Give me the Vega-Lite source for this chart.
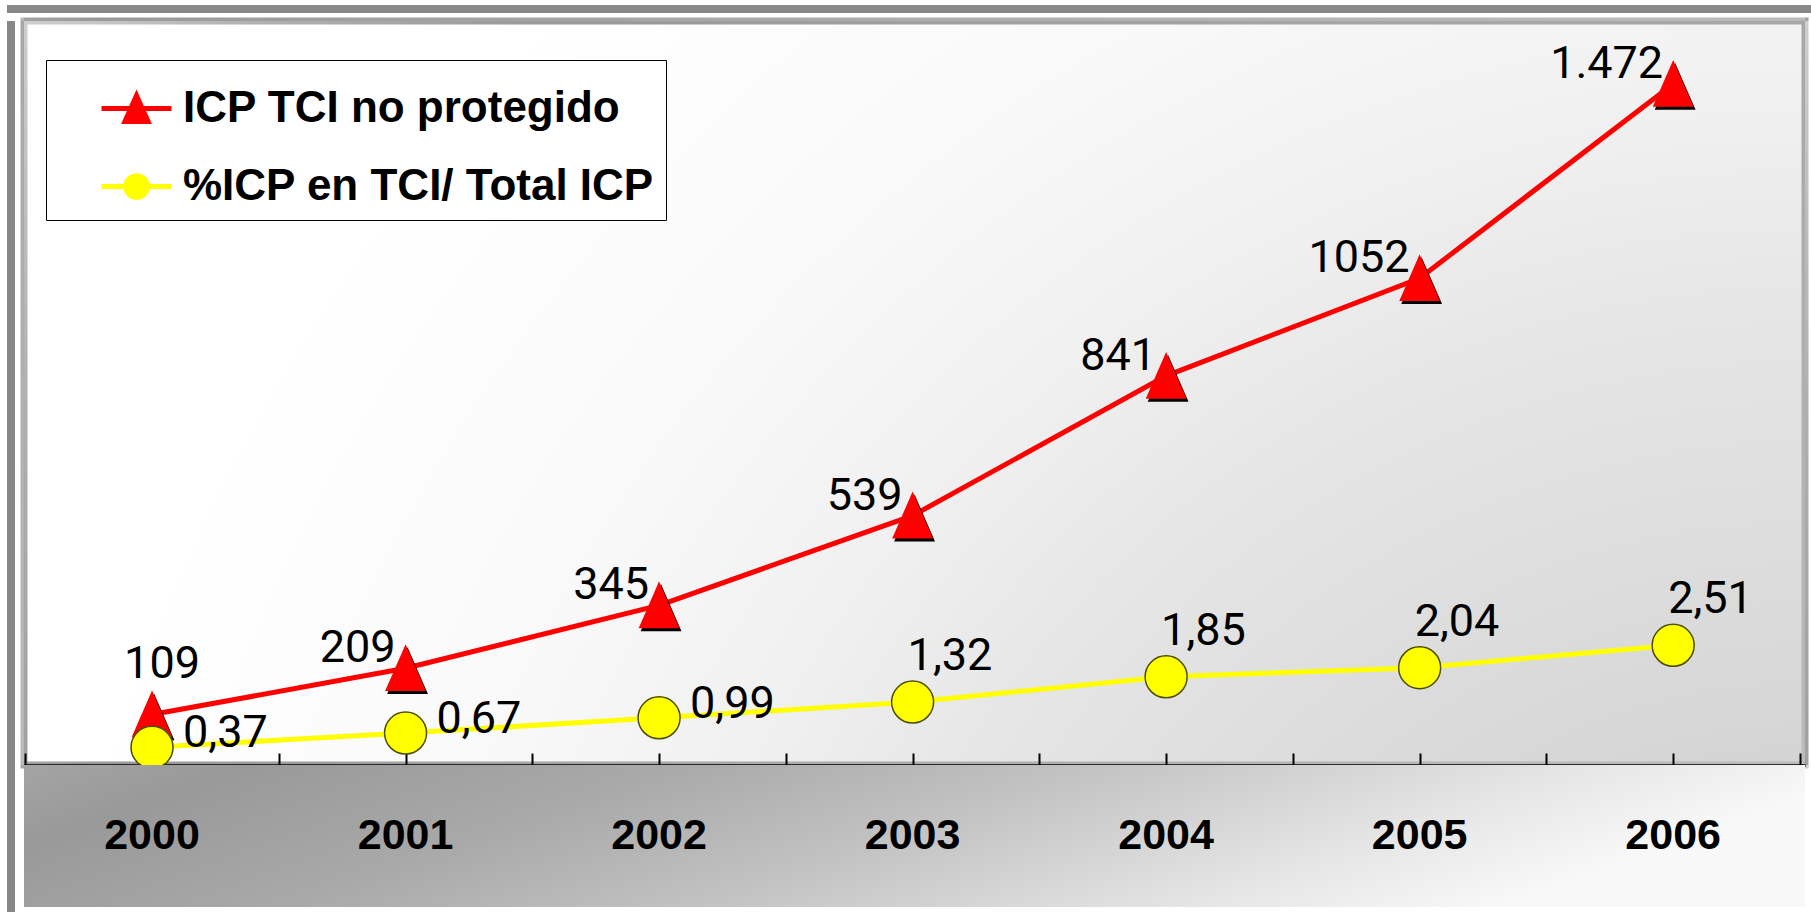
{
  "$schema": "https://vega.github.io/schema/vega-lite/v6.json",
  "background": "#ffffff",
  "padding": {"left": 7, "top": 5, "right": 0, "bottom": 0},
  "bounds": "flush",
  "spacing": 8,
  "datasets": {
    "d": [
      {"year": 2000, "icp": 109, "icp_label": "109", "pct": 0.37, "pct_label": "0,37"},
      {"year": 2001, "icp": 209, "icp_label": "209", "pct": 0.67, "pct_label": "0,67"},
      {"year": 2002, "icp": 345, "icp_label": "345", "pct": 0.99, "pct_label": "0,99"},
      {"year": 2003, "icp": 539, "icp_label": "539", "pct": 1.32, "pct_label": "1,32"},
      {"year": 2004, "icp": 841, "icp_label": "841", "pct": 1.85, "pct_label": "1,85"},
      {"year": 2005, "icp": 1052, "icp_label": "1052", "pct": 2.04, "pct_label": "2,04"},
      {"year": 2006, "icp": 1472, "icp_label": "1.472", "pct": 2.51, "pct_label": "2,51"}
    ]
  },
  "vconcat": [
    {
      "data": {"values": []},
      "mark": "rect",
      "encoding": {},
      "width": 1804,
      "height": 8,
      "view": {"fill": "#888888", "stroke": null}
    },
    {
      "bounds": "flush",
      "spacing": 9,
      "hconcat": [
        {
          "data": {"values": []},
          "mark": "rect",
          "encoding": {},
          "width": 8,
          "height": 891,
          "view": {"fill": "#888888", "stroke": null}
        },
        {
          "bounds": "flush",
          "spacing": 0,
          "vconcat": [
            {
              "width": 1781,
              "height": 744,
              "data": {"name": "d"},
              "view": {
                "fill": {
                  "gradient": "radial", "x1": 1, "y1": 1, "r1": 0, "x2": 1, "y2": 1, "r2": 1,
                  "stops": [
                    {"offset": 0, "color": "#bababa"},
                    {"offset": 0.17, "color": "#c2c2c2"},
                    {"offset": 0.31, "color": "#d6d6d6"},
                    {"offset": 0.55, "color": "#e6e6e6"},
                    {"offset": 0.66, "color": "#f0f0f0"},
                    {"offset": 0.8, "color": "#f9f9f9"},
                    {"offset": 1, "color": "#ffffff"}
                  ]
                },
                "stroke": {
                  "gradient": "radial", "x1": 1, "y1": 1, "r1": 0, "x2": 1, "y2": 1, "r2": 1.45,
                  "stops": [
                    {"offset": 0, "color": "#c8c8c8"},
                    {"offset": 0.35, "color": "#b0b0b0"},
                    {"offset": 0.69, "color": "#999999"},
                    {"offset": 0.77, "color": "#b0b0b0"},
                    {"offset": 0.89, "color": "#e0e0e0"},
                    {"offset": 1, "color": "#ffffff"}
                  ]
                },
                "strokeWidth": 7
              },
              "encoding": {
                "x": {
                  "field": "year", "type": "quantitative",
                  "scale": {"domain": [1999.495, 2006.52], "nice": false, "zero": false},
                  "axis": {
                    "values": [1999.5, 2000, 2000.5, 2001, 2001.5, 2002, 2002.5, 2003, 2003.5, 2004, 2004.5, 2005, 2005.5, 2006, 2006.5],
                    "labels": false, "title": null, "grid": false,
                    "domainColor": "#000000", "domainWidth": 2.5,
                    "tickColor": "#000000", "tickWidth": 2, "tickSize": -12
                  }
                }
              },
              "layer": [
                {
                  "mark": {"type": "line", "strokeWidth": 5},
                  "encoding": {
                    "y": {"field": "icp", "type": "quantitative", "scale": {"domain": [0, 1608], "nice": false}, "axis": null},
                    "color": {
                      "datum": "ICP TCI no protegido", "type": "nominal",
                      "scale": {"domain": ["ICP TCI no protegido", "%ICP en TCI/ Total ICP"], "range": ["#ff0000", "#ffff00"]},
                      "legend": {
                        "title": null, "orient": "none", "legendX": 39, "legendY": 55,
                        "fillColor": "#ffffff", "strokeColor": "#000000",
                        "padding": 11, "rowPadding": 17, "symbolOffset": 42, "labelOffset": 9,
                        "symbolSize": 4900, "symbolStrokeWidth": 5,
                        "labelFont": "Liberation Sans", "labelFontWeight": "bold", "labelFontSize": 44,
                        "labelColor": "#000000", "labelLimit": 1000,
                        "encode": {
                          "symbols": {
                            "update": {
                              "shape": {"signal": "datum.value === 'ICP TCI no protegido' ? 'M-1,0L1,0M0,-0.37L-0.33,0.37L0.33,0.37Z' : 'M-1,0L1,0M-0.31,0A0.31,0.31,0,1,1,0.31,0A0.31,0.31,0,1,1,-0.31,0Z'"},
                              "fill": {"signal": "datum.value === 'ICP TCI no protegido' ? '#ff0000' : '#ffff00'"},
                              "stroke": {"signal": "datum.value === 'ICP TCI no protegido' ? '#ff0000' : '#ffff00'"},
                              "strokeWidth": {"value": 5},
                              "opacity": {"value": 1}
                            }
                          }
                        }
                      }
                    }
                  }
                },
                {
                  "mark": {"type": "point", "shape": "M0.083,-0.875L-0.767,1.075L0.933,1.075Z", "filled": true, "color": "#000000", "size": 2304, "opacity": 1, "strokeWidth": 0},
                  "encoding": {
                    "y": {"field": "icp", "type": "quantitative", "scale": {"domain": [0, 1608], "nice": false}, "axis": null}
                  }
                },
                {
                  "mark": {"type": "point", "shape": "M0,-1L-0.85,0.95L0.85,0.95Z", "filled": true, "color": "#ff0000", "size": 2304, "opacity": 1, "strokeWidth": 0},
                  "encoding": {
                    "y": {"field": "icp", "type": "quantitative", "scale": {"domain": [0, 1608], "nice": false}, "axis": null}
                  }
                },
                {
                  "mark": {"type": "line", "strokeWidth": 5},
                  "encoding": {
                    "y": {"field": "pct", "type": "quantitative", "scale": {"domain": [0, 15.6], "nice": false}, "axis": null},
                    "color": {"datum": "%ICP en TCI/ Total ICP", "type": "nominal"}
                  }
                },
                {
                  "mark": {"type": "point", "shape": "circle", "filled": true, "fill": "#ffff00", "stroke": "#4d4d00", "strokeWidth": 1.5, "size": 1764, "opacity": 1},
                  "encoding": {
                    "y": {"field": "pct", "type": "quantitative", "scale": {"domain": [0, 15.6], "nice": false}, "axis": null}
                  }
                },
                {
                  "transform": [{"filter": "datum.year == 2000"}],
                  "mark": {"type": "text", "font": "Roboto", "fontSize": 45, "align": "center", "baseline": "middle", "dx": 10, "dy": -51, "color": "#000000"},
                  "encoding": {
                    "y": {"field": "icp", "type": "quantitative", "scale": {"domain": [0, 1608], "nice": false}, "axis": null},
                    "text": {"field": "icp_label", "type": "nominal"}
                  }
                },
                {
                  "transform": [{"filter": "datum.year > 2000"}],
                  "mark": {"type": "text", "font": "Roboto", "fontSize": 45, "align": "right", "baseline": "middle", "dx": -10, "dy": -20, "color": "#000000"},
                  "encoding": {
                    "y": {"field": "icp", "type": "quantitative", "scale": {"domain": [0, 1608], "nice": false}, "axis": null},
                    "text": {"field": "icp_label", "type": "nominal"}
                  }
                },
                {
                  "transform": [{"filter": "datum.year <= 2002"}],
                  "mark": {"type": "text", "font": "Roboto", "fontSize": 45, "align": "left", "baseline": "middle", "dx": 31, "dy": -14, "color": "#000000"},
                  "encoding": {
                    "y": {"field": "pct", "type": "quantitative", "scale": {"domain": [0, 15.6], "nice": false}, "axis": null},
                    "text": {"field": "pct_label", "type": "nominal"}
                  }
                },
                {
                  "transform": [{"filter": "datum.year > 2002"}],
                  "mark": {"type": "text", "font": "Roboto", "fontSize": 45, "align": "left", "baseline": "middle", "dx": -5, "dy": -46, "color": "#000000"},
                  "encoding": {
                    "y": {"field": "pct", "type": "quantitative", "scale": {"domain": [0, 15.6], "nice": false}, "axis": null},
                    "text": {"field": "pct_label", "type": "nominal"}
                  }
                }
              ],
              "resolve": {"scale": {"y": "independent"}}
            },
            {
              "width": 1781,
              "height": 142,
              "data": {"name": "d"},
              "view": {
                "fill": {
                  "gradient": "linear", "x1": 0, "y1": 0, "x2": 1, "y2": 0.22,
                  "stops": [
                    {"offset": 0, "color": "#a4a4a4"},
                    {"offset": 0.12, "color": "#999999"},
                    {"offset": 0.35, "color": "#a9a9a9"},
                    {"offset": 0.57, "color": "#c2c2c2"},
                    {"offset": 0.84, "color": "#e6e6e6"},
                    {"offset": 1, "color": "#f8f8f8"}
                  ]
                },
                "stroke": null
              },
              "mark": {"type": "text", "font": "Liberation Sans", "fontWeight": "bold", "fontSize": 43, "color": "#000000", "baseline": "middle"},
              "encoding": {
                "x": {"field": "year", "type": "quantitative", "scale": {"domain": [1999.495, 2006.52], "nice": false, "zero": false}, "axis": null},
                "text": {"field": "year", "type": "nominal"}
              }
            }
          ]
        }
      ]
    }
  ]
}
